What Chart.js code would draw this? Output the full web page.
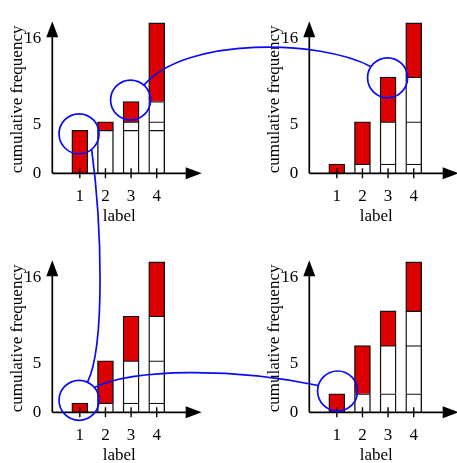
<!DOCTYPE html>
<html>
<head>
<meta charset="utf-8">
<script src="https://cdn.jsdelivr.net/npm/chart.js@4"></script>
<style>
  html, body { margin:0; padding:0; background:#fff; overflow:hidden; }
  #wrap { position:relative; width:457px; height:463px; }
  #wrap canvas { position:absolute; }
</style>
</head>
<body>
<div id="wrap">
  <canvas id="cTL" width="210" height="227" style="left:0;top:0"></canvas>
  <canvas id="cTR" width="210" height="227" style="left:257px;top:0"></canvas>
  <canvas id="cBL" width="210" height="227" style="left:0;top:239px"></canvas>
  <canvas id="cBR" width="210" height="227" style="left:257px;top:239px"></canvas>
  <canvas id="overlay" width="457" height="463" style="left:0;top:0"></canvas>
</div>
<script>
/* ---------- data ---------- */
const xLabels   = ['1', '2', '3', '4'];
const xValues   = [1, 2, 3, 4];
const yTickVals = [0, 5.8, 16];
const yTickText = ['0', '5', '16'];

/* cumulative frequency at each label, one array per panel */
const cumTL = [5.1, 6.1, 8.5, 17.8];
const cumTR = [1.1, 6.1, 11.4, 17.8];
const cumBL = [1.1, 6.1, 11.4, 17.8];
const cumBR = [2.2, 7.9, 12.0, 17.8];

/* highlight circles: panel index, x value, y value */
const circlePanel = [0, 0, 1, 2, 3];
const circleX     = [0.97, 2.98, 2.98, 0.97, 1.03];
const circleY     = [4.67, 8.67, 11.3, 1.42, 2.52];

/* ---------- styles ---------- */
const RED   = '#dc0000';
const BLUE  = '#0a0af5';
const EDGE  = '#111';
const ARROW_EXT = 15.4;     // x axis runs past the plot area to the arrow tip
const CIRCLE_R  = 20;

/* connectors: from circle a0 (deg) -> circle a1 (deg), control offsets in px */
const links = [
  { from:0, a0: 51,  to:3, a1:-65,  c0:[10, 74],  c1:[18, -37] },
  { from:1, a0:-48,  to:2, a1:-146, c0:[42, -49], c1:[-50, -27] },
  { from:3, a0:-40,  to:4, a1:-164, c0:[39, -19], c1:[-86, -18] }
];

const panels = [
  { id:'cTL', cum:cumTL, left:0,   top:0   },
  { id:'cTR', cum:cumTR, left:257, top:0   },
  { id:'cBL', cum:cumBL, left:0,   top:239 },
  { id:'cBR', cum:cumBR, left:257, top:239 }
];

Chart.defaults.font.family = 'Liberation Serif';
Chart.defaults.font.size   = 17;
Chart.defaults.color       = '#000';

/* axis lines with arrow heads + tick marks crossing the x axis */
const arrowAxes = {
  id: 'arrowAxes',
  afterDatasetsDraw(chart) {
    const { ctx, chartArea:a, scales:{ x } } = chart;
    const tipX = a.right + ARROW_EXT;
    ctx.save();
    ctx.strokeStyle = '#000';
    ctx.fillStyle   = '#000';
    ctx.lineWidth   = 1.7;
    ctx.beginPath();
    ctx.moveTo(a.left, a.bottom);
    ctx.lineTo(a.left, a.top + 12);
    ctx.moveTo(a.left, a.bottom);
    ctx.lineTo(tipX - 12, a.bottom);
    ctx.stroke();

    ctx.beginPath();                       // y arrow
    ctx.moveTo(a.left, a.top);
    ctx.lineTo(a.left - 6, a.top + 16);
    ctx.lineTo(a.left + 6, a.top + 16);
    ctx.closePath();
    ctx.fill();
    ctx.beginPath();                       // x arrow
    ctx.moveTo(tipX, a.bottom);
    ctx.lineTo(tipX - 16, a.bottom - 6);
    ctx.lineTo(tipX - 16, a.bottom + 6);
    ctx.closePath();
    ctx.fill();

    ctx.lineWidth = 1.4;
    ctx.beginPath();
    xValues.forEach(v => {
      const px = x.getPixelForValue(v);
      ctx.moveTo(px, a.bottom - 5);
      ctx.lineTo(px, a.bottom + 5);
    });
    ctx.stroke();
    ctx.restore();
  }
};

function buildDatasets(cum) {
  return cum.map((c, k) => {
    const step = c - (k > 0 ? cum[k - 1] : 0);
    const pts  = xValues.slice(k).map(v => ({ x:v, y:step }));
    return {
      data: pts,
      backgroundColor: pts.map(p => (p.x === xValues[k] ? RED : '#fff')),
      borderColor: EDGE,
      borderWidth: 1.4,
      borderSkipped: 'start',
      barThickness: 16
    };
  });
}

const charts = panels.map(p => new Chart(document.getElementById(p.id), {
  type: 'bar',
  data: { datasets: buildDatasets(p.cum) },
  options: {
    responsive: false,
    animation: false,
    devicePixelRatio: 1,
    events: [],
    layout: { padding: { left:0, top:9.05, right:23.7, bottom:0 } },
    plugins: { legend:{ display:false }, tooltip:{ enabled:false } },
    scales: {
      x: {
        type: 'linear', stacked: true, min: 0.58, max: 4.5,
        grid: { display:false, drawTicks:false }, border: { display:false },
        afterBuildTicks: s => { s.ticks = xValues.map(v => ({ value:v })); },
        afterFit: s => { s.height = 53.7; },
        ticks: { padding: 13, callback: (v, i) => xLabels[i] },
        title: { display:true, text:'label', padding:{ top:0, bottom:0 } }
      },
      y: {
        stacked: true, min: 0, max: 18,
        grid: { display:false, drawTicks:false }, border: { display:false },
        afterBuildTicks: s => { s.ticks = yTickVals.map(v => ({ value:v })); },
        afterFit: s => { s.width = 52.3; },
        ticks: { padding: 11, callback: (v, i) => yTickText[i] },
        title: { display:true, text:'cumulative frequency', align:'start',
                 padding:{ top:7, bottom:0 } }
      }
    }
  },
  plugins: [arrowAxes]
}));

/* ---------- overlay: circles and connecting curves ---------- */
const ov  = document.getElementById('overlay').getContext('2d');
const centers = circleX.map((cx, i) => {
  const ch = charts[circlePanel[i]], p = panels[circlePanel[i]];
  return [p.left + ch.scales.x.getPixelForValue(cx),
          p.top  + ch.scales.y.getPixelForValue(circleY[i])];
});
const onCircle = (i, deg) => {
  const r = deg * Math.PI / 180;
  return [centers[i][0] + CIRCLE_R * Math.cos(r), centers[i][1] + CIRCLE_R * Math.sin(r)];
};

ov.strokeStyle = BLUE;
ov.lineWidth = 1.7;
centers.forEach(([cx, cy]) => {
  ov.beginPath();
  ov.arc(cx, cy, CIRCLE_R, 0, Math.PI * 2);
  ov.stroke();
});
links.forEach(l => {
  const s = onCircle(l.from, l.a0), e = onCircle(l.to, l.a1);
  ov.beginPath();
  ov.moveTo(s[0], s[1]);
  ov.bezierCurveTo(s[0] + l.c0[0], s[1] + l.c0[1],
                   e[0] + l.c1[0], e[1] + l.c1[1], e[0], e[1]);
  ov.stroke();
});
</script>
</body>
</html>
